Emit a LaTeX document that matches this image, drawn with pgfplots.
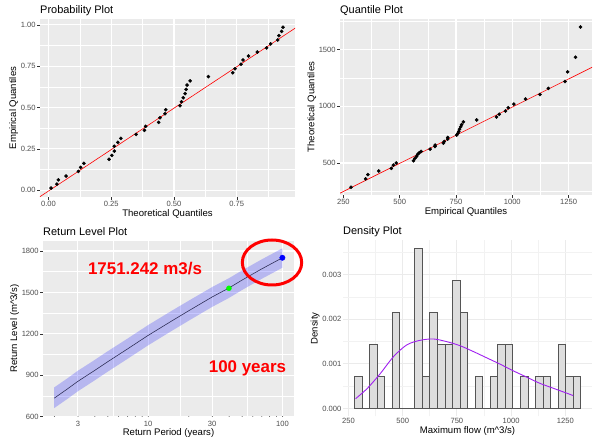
\documentclass[border=0pt]{standalone}
\usepackage{fontspec}
\setmainfont{Liberation Sans}
\usepackage{pgfplots}
\pgfplotsset{compat=1.18}
\definecolor{ggbg}{HTML}{EBEBEB}
\definecolor{ggtick}{HTML}{333333}
\definecolor{ggtext}{HTML}{4D4D4D}
\definecolor{dens}{HTML}{A020F0}
\definecolor{barfill}{HTML}{DEDEDE}
\definecolor{bardraw}{HTML}{555555}
\definecolor{mingrid}{HTML}{F2F2F2}
\definecolor{rlline}{RGB}{40,40,80}
\definecolor{ptgreen}{RGB}{0,255,0}
\pgfplotsset{
  ggbase/.style={
    scale only axis,
    axis line style={draw=none},
    grid=both,
    tick align=outside, tick pos=left,
    major tick length=2.7bp, minor tick length=0pt,
    every tick/.style={ggtick, line width=0.5bp},
    tick label style={font=\fontsize{7.6}{8}\selectfont, text=ggtext},
    xticklabel style={inner sep=1.5bp},
    yticklabel style={inner sep=1.5bp},
    label style={font=\fontsize{9.6}{10}\selectfont},
    xlabel style={inner sep=1bp},
    ylabel style={inner sep=1bp},
    every axis title/.style={font=\fontsize{11}{12}\selectfont, anchor=base west, at={(0,1)}, yshift=5.5bp, inner sep=0pt},
    /pgf/number format/assume math mode=true,
    /pgf/number format/1000 sep={},
  },
  gg/.style={ggbase,
    axis background/.style={fill=ggbg},
    major grid style={white, line width=1.1bp},
    minor grid style={white, line width=0.55bp},
  },
  ggmin/.style={ggbase,
    major grid style={ggbg, line width=1.1bp},
    minor grid style={mingrid, line width=0.55bp},
    major tick length=0pt,
  },
}
\begin{document}
\begin{tikzpicture}
% ---------------- Probability plot
\begin{axis}[gg, at={(40bp,248bp)}, anchor=south west, width=255bp, height=178bp,
  xmin=-0.034, xmax=0.982, ymin=-0.042, ymax=1.036,
  xtick={0,0.25,0.5,0.75}, xticklabels={0.00,0.25,0.50,0.75},
  minor xtick={0.125,0.375,0.625,0.875},
  ytick={0,0.25,0.5,0.75,1}, yticklabels={0.00,0.25,0.50,0.75,1.00},
  minor ytick={0.125,0.375,0.625,0.875},
  title={Probability Plot}, xlabel={Theoretical Quantiles}, ylabel={Empirical Quantiles}]
\addplot[red, line width=0.6bp] coordinates {(-0.05,-0.056) (1.0,0.998)};
\addplot[only marks, mark=*, mark size=1.6bp, black] coordinates {
(0.010,0.012) (0.033,0.036) (0.039,0.062) (0.070,0.085) (0.119,0.113)
(0.128,0.137) (0.141,0.162) (0.241,0.186) (0.252,0.210) (0.262,0.236)
(0.262,0.265) (0.276,0.289) (0.288,0.313) (0.349,0.337) (0.382,0.362)
(0.387,0.386) (0.439,0.410) (0.444,0.438) (0.464,0.462) (0.467,0.486)
(0.524,0.511) (0.530,0.535) (0.537,0.559) (0.544,0.584) (0.548,0.610)
(0.552,0.636) (0.564,0.661) (0.637,0.687) (0.734,0.711) (0.743,0.735)
(0.767,0.762) (0.775,0.788) (0.797,0.812) (0.832,0.836) (0.869,0.861)
(0.885,0.885) (0.913,0.909) (0.918,0.935) (0.929,0.961) (0.934,0.986)};
\end{axis}
% ---------------- Quantile plot
\begin{axis}[gg, at={(340bp,250bp)}, anchor=south west, width=252bp, height=176bp,
  xmin=235, xmax=1354, ymin=218, ymax=1770,
  xtick={250,500,750,1000,1250}, minor xtick={375,625,875,1125},
  ytick={500,1000,1500}, minor ytick={250,750,1250,1750},
  title={Quantile Plot}, xlabel={Empirical Quantiles}, ylabel={Theoretical Quantiles}]
\addplot[red, line width=0.6bp] coordinates {(200,199.3) (1400,1389.7)};
\addplot[only marks, mark=*, mark size=1.6bp, black] coordinates {
(284,287) (349,360) (359,398) (407,430) (463,453) (472,482) (485,500)
(561,520) (568,541) (575,558) (580,576) (587,591) (595,602) (635,623)
(657,646) (657,658) (694,675) (698,690) (713,711) (713,725) (753,746)
(758,760) (762,778) (766,798) (771,819) (775,839) (783,863) (842,880)
(930,906) (942,930) (970,959) (982,988) (1007,1020) (1059,1064)
(1123,1105) (1160,1158) (1234,1219) (1246,1304) (1281,1433) (1303,1699)};
\end{axis}
% ---------------- Return level plot
\begin{axis}[gg, xmode=log, at={(43bp,28.5bp)}, anchor=south west, width=251bp, height=175.8bp,
  xmin=1.65, xmax=122, ymin=600, ymax=1875,
  xtick={3,10,30,100}, xticklabels={3,10,30,100},
  minor xtick={5.477,17.32,54.77},
  xtick style={draw=none},
  ytick={600,900,1200,1500,1800}, minor ytick={750,1050,1350,1650},
  title={Return Level Plot}, xlabel={Return Period (years)}, ylabel={Return Level (m\textasciicircum 3/s)}]
\addplot[fill=blue, fill opacity=0.22, draw=none] coordinates {
(2,811) (2.5,876) (3,932) (4,1010) (5,1073) (7,1164) (10,1263) (15,1367)
(20,1439) (30,1539) (40,1603) (50,1659) (70,1739) (100,1820)
(100,1679) (70,1598) (50,1517) (40,1460) (30,1395) (20,1294) (15,1221)
(10,1116) (7,1017) (5,925) (4,862) (3,783) (2.5,727) (2,661)} -- cycle;
\addplot[rlline, line width=0.55bp] coordinates {
(2,733) (2.5,799) (3,855) (4,934) (5,997) (7,1089) (10,1188) (15,1293)
(20,1366) (30,1467) (40,1532) (50,1589) (70,1670) (100,1751.242)};
\addplot[only marks, mark=*, mark size=2.5bp, mark options={draw=ptgreen, fill=ptgreen}] coordinates {(40,1530)};
\addplot[only marks, mark=*, mark size=2.7bp, mark options={draw=blue, fill=blue}] coordinates {(100,1751.242)};
\pgfplotsinvokeforeach{2,3,4,6,7,8,9,20,30,40,60,70,80,90}{
  \draw[black, line width=0.6bp] (axis cs:#1,600) -- ++(0,2.7bp);}
\pgfplotsinvokeforeach{5,50}{
  \draw[black, line width=0.6bp] (axis cs:#1,600) -- ++(0,4.3bp);}
\pgfplotsinvokeforeach{10,100}{
  \draw[black, line width=0.6bp] (axis cs:#1,600) -- ++(0,6.7bp);}
\end{axis}
% ---------------- Density plot
\begin{axis}[ggmin, at={(343bp,28.5bp)}, anchor=south west, width=249bp, height=176bp,
  xmin=225, xmax=1373, ymin=-0.00018, ymax=0.00377,
  xtick={250,500,750,1000,1250}, minor xtick={375,625,875,1125},
  ytick={0,0.001,0.002,0.003}, yticklabels={0.000,0.001,0.002,0.003},
  minor ytick={0.0005,0.0015,0.0025,0.0035},
  scaled y ticks=false,
  title={Density Plot}, xlabel={Maximum flow (m\textasciicircum 3/s)}, ylabel={Density}]
\addplot[ybar interval, fill=barfill, draw=bardraw, line width=0.6bp] coordinates {
(277.0,0.000718) (311.8,0) (346.6,0.001437) (381.4,0.000718) (416.2,0)
(451.0,0.002155) (485.8,0) (520.6,0) (555.4,0.003592) (590.2,0.000718)
(625.0,0.002155) (659.8,0.001437) (694.6,0.001437) (729.4,0.002874) (764.2,0.002155)
(799.0,0) (833.8,0.000718) (868.6,0) (903.4,0.000718) (938.2,0.001437)
(973.0,0.001437) (1007.8,0) (1042.6,0.000718) (1077.4,0) (1112.2,0.000718)
(1147.0,0.000718) (1181.8,0) (1216.6,0.001437) (1251.4,0.000718) (1286.2,0.000718)
(1321.0,0)};
\addplot[dens, line width=0.9bp, smooth] coordinates {
(283,0.00022) (337,0.00045) (398,0.00079) (459,0.00117) (520,0.00143)
(581,0.00153) (642,0.00156) (703,0.00150) (764,0.00141) (825,0.00128)
(886,0.00114) (947,0.00100) (1008,0.00085) (1069,0.00071) (1130,0.00057)
(1191,0.00046) (1253,0.00035) (1286,0.00029)};
\end{axis}
% ---------------- annotations
\node[anchor=base, text=red, font=\bfseries\fontsize{17}{20}\selectfont, inner sep=0pt] at (145bp,170bp) {1751.242 m3/s};
\node[anchor=base, text=red, font=\bfseries\fontsize{17}{20}\selectfont, inner sep=0pt] at (247.5bp,72.3bp) {100 years};
\draw[red, line width=3bp] (272bp,182.5bp) ellipse [x radius=29.7bp, y radius=22.5bp];
\pgfresetboundingbox
\path (0,0) rectangle (600bp,445bp);
\end{tikzpicture}
\end{document}
